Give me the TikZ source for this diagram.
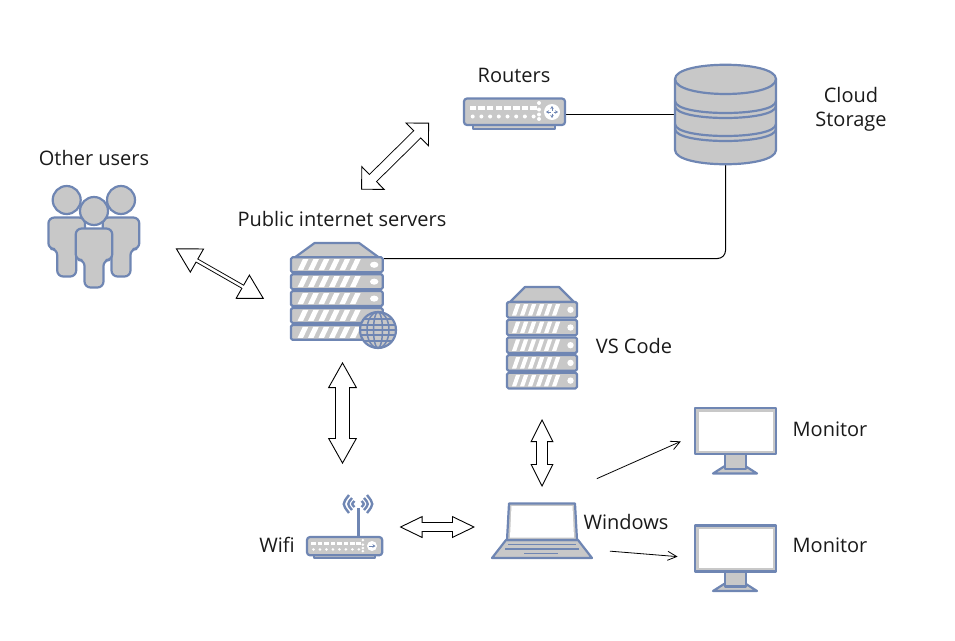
\documentclass[tikz,border=0pt]{standalone}
\usepackage{fontspec}
\setmainfont{Open Sans}
\usepackage{xcolor}
\usepackage{tikz}
\usetikzlibrary{positioning,arrows.meta}
\definecolor{iconline}{HTML}{6F86B3}
\definecolor{iconfill}{HTML}{C8C8C8}
\definecolor{labelink}{HTML}{1A1A1A}

\begin{document}
\begin{tikzpicture}
	[x=1pt, y=-1pt, font=\fontsize{20}{24}\selectfont,
	icon/.style={draw=iconline, fill=iconfill, line width=2.2pt, line join=round},
	iconthin/.style={draw=iconline, line width=1.5pt},
	slot/.style n args={2}{inner sep=0pt, outer sep=0pt, minimum width=#1pt, minimum height=#2pt},
	label/.style={text=labelink, inner sep=0pt, align=center},
	wire/.style={draw=black, line width=1pt},
	thinarrow/.style={draw=black, line width=.8pt, -{Straight Barb[length=9pt,width=9pt,line width=.8pt]}},
	blockarrow/.style n args={5}{draw=black, line width=#1pt+1.8pt, shorten <=#4pt, shorten >=#5pt,
		{Triangle[length=#2pt,width=#3pt,fill=white,line width=.9pt]}-{Triangle[length=#2pt,width=#3pt,fill=white,line width=.9pt]},
		postaction={draw=white, line width=#1pt, arrows=-, shorten <=#4pt+#2pt-2pt, shorten >=#5pt+#2pt-2pt}},
	rack/.pic={
		\draw[icon] (3,15) -- (18,0) -- (52,0) -- (67,15) -- cycle;
		\foreach \i in {0,...,4}{
			\pgfmathsetmacro{\ytop}{15+17.7*\i}
			\draw[icon, rounded corners=1.5pt] (0,\ytop) rectangle ++(70,15.6);
			\foreach \j in {0,...,5}{
				\fill[white] (5+8*\j,\ytop+13.5) -- ++(4.2,0) -- ++(4,-11.5) -- ++(-4.2,0) -- cycle;
			}
			\fill[white] (63.5,\ytop+7.8) circle (3.2);
		}
	},
	portbox/.pic={
		\draw[icon] (9,26) rectangle (91,30.5);
		\draw[icon, rounded corners=3pt] (0,0) rectangle (101,26.5);
		\foreach \j in {0,...,7}{
			\fill[white] (5.5+8.7*\j,7) rectangle ++(6.5,4.5);
			\fill[white] (8.7+8.7*\j,18) circle (2);
		}
		\foreach \k in {4.5,11,16,20.5}{
			\fill[white] (75,\k) circle (2);
		}
	},
	screen/.pic={
		\draw[icon] (18,65.5) -- (29,58.5) -- (51,58.5) -- (62,65.5) -- cycle;
		\draw[icon] (30,46) rectangle (51,61);
		\draw[icon] (0,0) rectangle (81,46);
		\fill[white] (3.5,3.5) rectangle (77.5,42.5);
	},
	person/.pic={
		\draw[icon] (0,0) circle (14);
		\draw[icon, rounded corners=6pt] (-18.3,17.5) -- (18.3,17.5) -- (18.3,49) -- (9.5,49) -- (9.5,76.5)
			-- (-9.5,76.5) -- (-9.5,49) -- (-18.3,49) -- cycle;
	},
	]
	\useasboundingbox (0,0) rectangle (955,640);
	
	% icon places
	\node[slot={92}{102}] (U) at (94,237) {};
	\node[slot={101}{31}] (R) at (514.5,114.5) {};
	\node[slot={101}{100}] (C) at (725.5,114.5) {};
	\node[slot={103}{105}] (P) at (342.5,295.5) {};
	\node[slot={70}{102}] (V) at (542,338) {};
	\node[slot={75}{63}] (W) at (345,527) {};
	\node[slot={100}{55}] (L) at (542,530.5) {};
	\node[slot={81}{66}] (M1) at (735,441) {};
	\node[slot={81}{66}] (M2) at (735,558) {};
	\coordinate (Pport) at (384,258.5);
	
	% labels
	\node[label] (Ut) at (94,158) {Other users};
	\node[label] (Rt) at (514,75) {Routers};
	\node[label] (Ct) at (851,109) {Cloud\\Storage};
	\node[label] (Pt) at (342,218.5) {Public internet servers};
	\node[label] (Vt) at (634,346) {VS Code};
	\node[label] (Lt) at (626,522) {Windows};
	\node[label] (Wt) at (277,545) {Wifi};
	\node[label] (M1t) at (830,429) {Monitor};
	\node[label] (M2t) at (830,545) {Monitor};
	
	% wires behind the icons
	\draw[wire] (R) -- (C);
	\draw[wire, rounded corners=8pt] (Pport) -| (C.south);
	
	% other users
	\pic at (66.7,200) {person};
	\pic at (121,200) {person};
	\pic at (94,211) {person};
	
	% router
	\pic at (464,98.5) {portbox};
	\fill[white] (552,112) circle (8);
	\foreach \ax/\ay in {1.5/0,-1.5/0,0/1.5,0/-1.5}{
		\draw[draw=iconline, line width=1pt, -{Stealth[length=3pt,width=3.5pt]}] (552+\ax,112+\ay) -- (552+4*\ax,112+4*\ay);
	}
	
	% cloud storage
	\draw[icon] (675,79) -- (675,150) .. controls (675,169) and (776,169) .. (776,150) -- (776,79)
		.. controls (776,60) and (675,60) .. (675,79) -- cycle;
	\draw[icon, fill=none] (675,79) .. controls (675,99) and (776,99) .. (776,79);
	\foreach \ycyl in {101,106,124,129}{
		\draw[icon, fill=none] (675,\ycyl) .. controls (675,\ycyl+16) and (776,\ycyl+16) .. (776,\ycyl);
	}
	
	% public internet servers
	\pic[xscale=1.31, yscale=.955] at (291,243) {rack};
	\draw[icon] (378,330) circle (18);
	\draw[iconthin] (378,330) ellipse [x radius=11, y radius=18];
	\draw[iconthin] (378,330) ellipse [x radius=4.5, y radius=18];
	\foreach \dy/\dx in {-11/14,-5/17,0/18,5/17,11/14}{
		\draw[iconthin] (378-\dx,330+\dy) -- (378+\dx,330+\dy);
	}
	
	% vs code
	\pic at (507,287) {rack};
	
	% wifi
	\draw[icon, line width=3pt] (358,537) -- (358,508);
	\foreach \d/\h/\w in {3.5/3/-3,6/6/-5,9/9/-7}{
		\draw[iconthin, line width=2.4pt] (358-\d,504-\h) .. controls (358-\d+\w,504) .. (358-\d,504+\h);
		\draw[iconthin, line width=2.4pt] (358+\d,504-\h) .. controls (358+\d-\w,504) .. (358+\d,504+\h);
	}
	\pic[xscale=.745, yscale=.69] at (307,537) {portbox};
	\fill[white] (372,546) circle (5);
	\draw[draw=iconline, line width=1pt, -{Stealth[length=3pt,width=3.5pt]}] (368.5,546) -- (375.5,546);
	
	% laptop
	\draw[icon] (506,540) -- (578,540) -- (592,558) -- (492,558) -- cycle;
	\draw[icon] (507,540) -- (509,503.5) -- (575,503.5) -- (577,540) -- cycle;
	\fill[white] (510,537.5) -- (511.5,506) -- (572.5,506) -- (574,537.5) -- cycle;
	\draw[iconthin] (508,544.5) -- (576,544.5) (505,549) -- (579,549) (524,553.5) -- (558,553.5);
	
	% monitors
	\pic at (695,408) {screen};
	\pic at (695,525.5) {screen};
	
	% arrows
	\draw[thinarrow, shorten <=60pt, shorten >=15pt] (L.north) -- (M1.172);
	\draw[thinarrow, shorten <=18pt, shorten >=17pt] (L.-21) -- (M2.west);
	\draw[blockarrow={2.5}{25}{28}{41}{31}] (U.11) -- (P.200);
	\draw[blockarrow={9}{17}{34}{76}{68}] (P.124) -- (Rt.west);
	\draw[blockarrow={13}{26}{29}{14}{31.5}] (P) -- (P |- W.north);
	\draw[blockarrow={10}{23}{23}{30}{16}] (V) -- (L);
	\draw[blockarrow={8}{23}{22}{17}{17}] (W) -- (W -| L.west);
	
\end{tikzpicture}
\end{document}
